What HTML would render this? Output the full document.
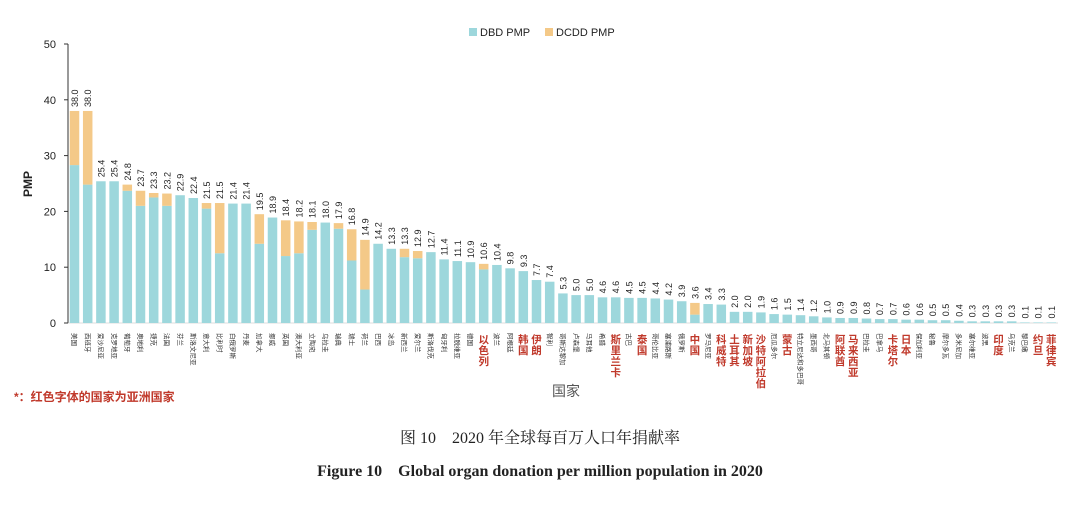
<!DOCTYPE html>
<html><head><meta charset="utf-8"><style>
body{margin:0;background:#fff;width:1080px;height:505px;overflow:hidden;font-family:"Liberation Sans","Noto Sans CJK SC",sans-serif}
</style></head><body>
<svg id="chart" width="1080" height="505" xmlns="http://www.w3.org/2000/svg" style="position:absolute;left:0;top:0">
<g>
<rect x="469" y="28" width="8" height="8" fill="#9dd7dc"/>
<text x="480" y="36" font-size="11" fill="#222">DBD PMP</text>
<rect x="545" y="28" width="8" height="8" fill="#f4c988"/>
<text x="556" y="36" font-size="11" fill="#222">DCDD PMP</text>
</g>
<text transform="translate(32,184) rotate(-90)" text-anchor="middle" font-size="12" font-weight="bold" fill="#222">PMP</text>
<text x="566" y="396" text-anchor="middle" font-size="14" fill="#555">国家</text>
<text x="14" y="401" font-size="12" font-weight="bold" fill="#c0392b">*：红色字体的国家为亚洲国家</text>
<text x="540" y="443" text-anchor="middle" font-size="16" fill="#222" font-family="Liberation Serif,Noto Serif CJK SC,serif">图 10　2020 年全球每百万人口年捐献率</text>
<text x="540" y="476" text-anchor="middle" font-size="16" font-weight="bold" fill="#222" font-family="Liberation Serif,serif">Figure 10　Global organ donation per million population in 2020</text>
<g id="plot"></g>
</svg>
<script>
const countries=["美国","西班牙","爱沙尼亚","克罗地亚","葡萄牙","奥地利","捷克","法国","芬兰","斯洛文尼亚","意大利","比利时","白俄罗斯","丹麦","加拿大","挪威","英国","澳大利亚","立陶宛","乌拉圭","瑞典","瑞士","荷兰","巴西","冰岛","新西兰","爱尔兰","斯洛伐克","匈牙利","拉脱维亚","德国","以色列","波兰","阿根廷","韩国","伊朗","智利","哥斯达黎加","卢森堡","马耳他","希腊","斯里兰卡","古巴","泰国","哥伦比亚","塞浦路斯","俄罗斯","中国","罗马尼亚","科威特","土耳其","新加坡","沙特阿拉伯","厄瓜多尔","蒙古","特立尼达和多巴哥","墨西哥","北马其顿","阿联酋","马来西亚","巴拉圭","巴拿马","卡塔尔","日本","保加利亚","秘鲁","摩尔多瓦","多米尼加","塞尔维亚","波黑","印度","乌克兰","黎巴嫩","约旦","菲律宾"];
const totals=[38.0,38.0,25.4,25.4,24.8,23.7,23.3,23.2,22.9,22.4,21.5,21.5,21.4,21.4,19.5,18.9,18.4,18.2,18.1,18.0,17.9,16.8,14.9,14.2,13.3,13.3,12.9,12.7,11.4,11.1,10.9,10.6,10.4,9.8,9.3,7.7,7.4,5.3,5.0,5.0,4.6,4.6,4.5,4.5,4.4,4.2,3.9,3.6,3.4,3.3,2.0,2.0,1.9,1.6,1.5,1.4,1.2,1.0,0.9,0.9,0.8,0.7,0.7,0.6,0.6,0.5,0.5,0.4,0.3,0.3,0.3,0.3,0.1,0.1,0.1];
const dbd=[28.3,24.8,25.4,25.4,23.7,21.0,22.5,21.0,22.9,22.4,20.5,12.5,21.4,21.4,14.2,18.9,12.0,12.5,16.7,18.0,16.9,11.2,6.0,14.2,13.3,11.8,11.6,12.7,11.4,11.1,10.9,9.6,10.4,9.8,9.3,7.7,7.4,5.3,5.0,5.0,4.6,4.6,4.5,4.5,4.4,4.2,3.9,1.5,3.4,3.3,2.0,2.0,1.9,1.6,1.5,1.4,1.2,1.0,0.9,0.9,0.8,0.7,0.7,0.6,0.6,0.5,0.5,0.4,0.3,0.3,0.3,0.3,0.1,0.1,0.1];
const asian=["以色列","韩国","伊朗","斯里兰卡","泰国","中国","科威特","土耳其","新加坡","沙特阿拉伯","蒙古","阿联酋","马来西亚","卡塔尔","日本","印度","约旦","菲律宾"];
const yTicks=[0,10,20,30,40,50];
const NS="http://www.w3.org/2000/svg";
const plot=document.getElementById('plot');
const y0=323,y50=44,x0=74.5,step=13.2,bw=9.5,axX=68;
const yS=v=>y0-(v/50)*(y0-y50);
const xS=i=>x0+i*step;
function mk(t,a){const e=document.createElementNS(NS,t);for(const k in a)e.setAttribute(k,a[k]);plot.appendChild(e);return e;}
let ax=mk('line',{x1:axX,y1:yS(50),x2:axX,y2:y0,stroke:'#333','stroke-width':1});


let xa=mk('line',{x1:axX,y1:y0,x2:1058,y2:y0,stroke:'#bbb','stroke-width':0.6});


yTicks.forEach(v=>{
 let t=mk('line',{x1:axX-4,y1:yS(v),x2:axX,y2:yS(v),stroke:'#333'});
 
 
 let l=mk('text',{x:axX-12,y:yS(v)+4,'text-anchor':'end','font-size':11,fill:'#222'});
 l.textContent=v;
 
 
});
countries.forEach((c,i)=>{
 const x=xS(i)-bw/2;
 const d=dbd[i],t=totals[i];
 let b=mk('rect',{x:x,y:yS(d),width:bw,height:y0-yS(d),fill:'#9dd7dc'});
 
 
 if(t>d){
  let b2=mk('rect',{x:x,y:yS(t),width:bw,height:yS(d)-yS(t),fill:'#f4c988'});
  
  
 }
 let v=mk('text',{transform:`translate(${xS(i)+3.5},${yS(t)-4}) rotate(-90)`,'font-size':9,fill:'#222'});
 v.textContent=t.toFixed(1);
 
 
 const red=asian.includes(c);
 let l;
 if(red){
  l=mk('text',{'font-size':10.5,'font-weight':'bold',fill:'#c0392b','text-anchor':'middle'});
  [...c].forEach((ch,k)=>{
   const s=document.createElementNS(NS,'tspan');
   s.setAttribute('x',xS(i));
   s.setAttribute('y',343+k*11);
   s.textContent=ch;
   l.appendChild(s);
  });
 } else {
  l=mk('text',{transform:`translate(${xS(i)-2.3},333) rotate(90)`,'font-size':6.5,fill:'#333'});
  l.textContent=c;
 }
 
 
});
</script>
</body></html>
